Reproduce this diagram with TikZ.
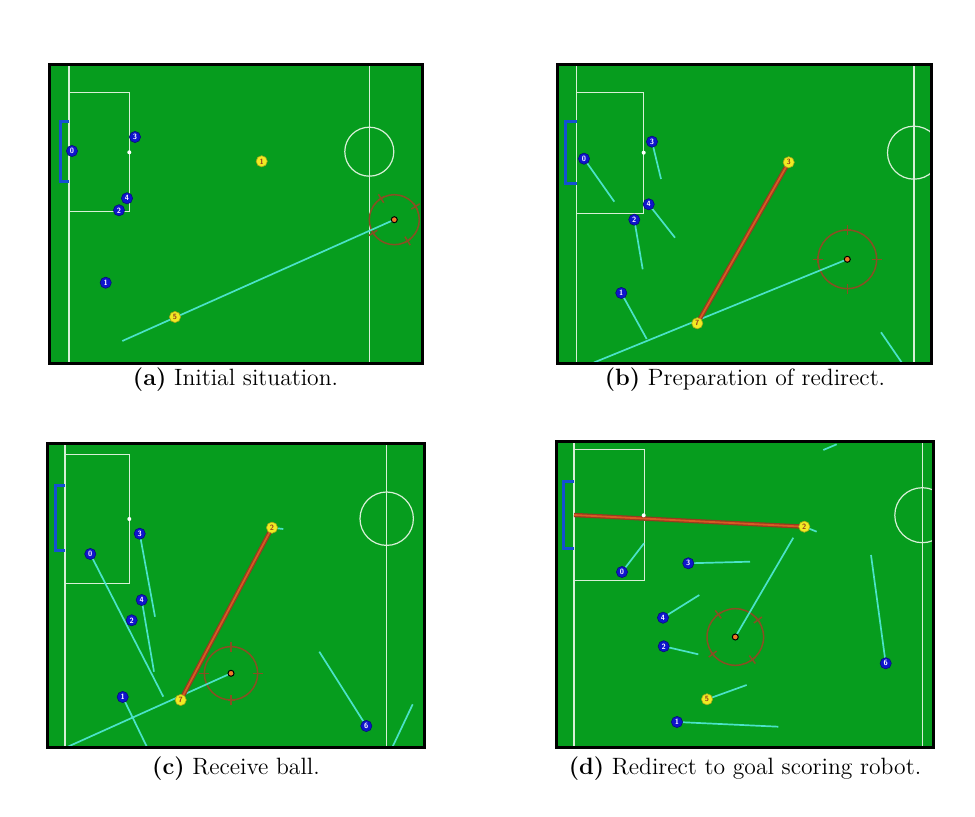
\documentclass[tikz,border=0pt]{standalone}
\definecolor{fieldgreen}{RGB}{6,157,30}
\definecolor{pathcyan}{RGB}{75,226,200}
\definecolor{botblue}{RGB}{15,20,205}
\definecolor{botyellow}{RGB}{240,235,35}
\definecolor{goalblue}{RGB}{20,80,210}
\definecolor{targetbrown}{RGB}{135,80,35}
\definecolor{passdark}{RGB}{150,60,30}
\definecolor{passlight}{RGB}{215,90,35}
\definecolor{balloran}{RGB}{240,120,40}
\definecolor{linewhite}{RGB}{215,240,215}
\pgfdeclarelayer{fieldlayer}
\pgfdeclarelayer{linelayer}
\pgfsetlayers{fieldlayer,linelayer,main}
\newcommand\targetmarks[3]{%
  \foreach \ang in {#3} {%
    \draw[target] (#1.center) ++(\ang:#2-5) -- ++(\ang:10);
    \draw[target] (#1.center) ++(\ang:#2) ++(\ang+90:3.5) -- ++(\ang-90:7);}}
\begin{document}
\begin{tikzpicture}[x=0.5pt,y=-0.5pt,
  border/.style={draw=black,line width=1.5pt},
  fline/.style={draw=linewhite,line width=0.6pt},
  goalbar/.style={draw=goalblue,line width=1.5pt},
  spot/.style={circle,fill=white,inner sep=0pt,minimum size=2pt},
  bbot/.style={circle,fill=botblue,draw=botblue!60!black,line width=0.3pt,inner sep=0pt,minimum size=5.6pt,text=white,font=\fontsize{3.8}{3.8}\selectfont\sffamily\bfseries},
  ybot/.style={bbot,fill=botyellow,draw=botyellow!70!black,text=passdark},
  ball/.style={circle,fill=balloran,draw=black,line width=0.5pt,inner sep=0pt,minimum size=3pt},
  target/.style={draw=targetbrown,line width=0.75pt},
  cyanpath/.style={draw=pathcyan,line width=0.85pt},
  passline/.style={draw=passdark,line width=2.2pt,postaction={draw=passlight,line width=0.9pt}},
  caption/.style={font=\fontsize{11.8}{14}\selectfont}]
\useasboundingbox (0,0) rectangle (975,817);

%================ panel (a) ================
\begin{pgfonlayer}{fieldlayer}
  \fill[fieldgreen] (49,65) rectangle (422,364);
  \draw[fline] (69,65) -- (69,364);
  \draw[fline] (69,92.3) -- (129.3,92.3) -- (129.3,211.7) -- (69,211.7);
  \draw[fline] (369.3,65) -- (369.3,364);
  \draw[fline] (369.3,151.7) circle[radius=24.5];
  \draw[goalbar] (69.3,121.7) -- (60,121.7) -- (60,181.7) -- (69.3,181.7);
\end{pgfonlayer}
\node[spot] (a-spot) at (129.3,152.3) {};
\node[ball] (a-ball) at (394.3,219.7) {};
\coordinate (a-end) at (122.3,341);
\node[bbot] (a-b3) at (135,137) {3};
\node[bbot] (a-b0) at (72,151) {0};
\node[bbot] (a-b4) at (127,198.3) {4};
\node[bbot] (a-b2) at (119,210.3) {2};
\node[bbot] (a-b1) at (105.7,282.7) {1};
\node[ybot] (a-y1) at (261.7,161.3) {1};
\node[ybot] (a-y5) at (175,317) {5};
\begin{pgfonlayer}{linelayer}
  \begin{scope}
    \clip (49,65) rectangle (422,364);
    \draw[target] (a-ball.center) circle[radius=25];
    \targetmarks{a-ball}{25}{-32,-122,-212,-302}
  \end{scope}
  \draw[cyanpath] (a-ball.center) -- (a-end);
\end{pgfonlayer}
\draw[border] (49,65) rectangle (422,364);
\node[caption] (cap-a) at (235.5,380) {\textbf{(a)} Initial situation.};

%================ panel (b) ================
\begin{pgfonlayer}{fieldlayer}
  \fill[fieldgreen] (557.7,64.3) rectangle (931.7,363.3);
  \draw[fline] (576.7,64.3) -- (576.7,363.3);
  \draw[fline] (576.7,92.3) -- (643.7,92.3) -- (643.7,213.3) -- (576.7,213.3);
  \draw[fline] (914,64.3) -- (914,363.3);
  \begin{scope}
    \clip (557.7,64.3) rectangle (931.7,363.3);
    \draw[fline] (914,152.7) circle[radius=26.5];
  \end{scope}
  \draw[goalbar] (576.7,121.7) -- (565.7,121.7) -- (565.7,183.3) -- (576.7,183.3);
\end{pgfonlayer}
\node[spot] (b-spot) at (643.7,152.7) {};
\node[ball] (b-ball) at (847.3,259.3) {};
\coordinate (b-end) at (594,362.5);
\coordinate (b-t3) at (661,179);
\coordinate (b-t0) at (614.3,201.7);
\coordinate (b-t4) at (675,237.7);
\coordinate (b-t2) at (642.7,269.3);
\coordinate (b-t1) at (646.7,339);
\coordinate (b-xs) at (881,332.3);
\coordinate (b-xe) at (901.7,362.5);
\node[bbot] (b-b3) at (652,141.7) {3};
\node[bbot] (b-b0) at (584,158.7) {0};
\node[bbot] (b-b4) at (648.7,204.3) {4};
\node[bbot] (b-b2) at (634.3,219.7) {2};
\node[bbot] (b-b1) at (621.3,293) {1};
\node[ybot] (b-y3) at (788.7,162.3) {3};
\node[ybot] (b-y7) at (697.3,323.3) {7};
\begin{pgfonlayer}{linelayer}
  \draw[target] (b-ball.center) circle[radius=29.3];
  \targetmarks{b-ball}{29.3}{0,90,180,270}
  \draw[cyanpath] (b-ball.center) -- (b-end);
  \draw[cyanpath] (b-b3.center) -- (b-t3);
  \draw[cyanpath] (b-b0.center) -- (b-t0);
  \draw[cyanpath] (b-b4.center) -- (b-t4);
  \draw[cyanpath] (b-b2.center) -- (b-t2);
  \draw[cyanpath] (b-b1.center) -- (b-t1);
  \draw[cyanpath] (b-xs) -- (b-xe);
  \draw[passline] (b-y3.center) -- (b-y7.center);
\end{pgfonlayer}
\draw[border] (557.7,64.3) rectangle (931.7,363.3);
\node[caption] (cap-b) at (745,380) {\textbf{(b)} Preparation of redirect.};

%================ panel (c) ================
\begin{pgfonlayer}{fieldlayer}
  \fill[fieldgreen] (47.3,443.3) rectangle (424,747.3);
  \draw[fline] (65,443.3) -- (65,747.3);
  \draw[fline] (65,454.3) -- (129.3,454.3) -- (129.3,583.3) -- (65,583.3);
  \draw[fline] (386.7,443.3) -- (386.7,747.3);
  \draw[fline] (386.7,518.7) circle[radius=26.7];
  \draw[goalbar] (65,485.7) -- (55,485.7) -- (55,551) -- (65,551);
\end{pgfonlayer}
\node[spot] (c-spot) at (129.3,519) {};
\node[ball] (c-ball) at (231,673.3) {};
\coordinate (c-end) at (68.3,746.5);
\coordinate (c-t3) at (155,616.7);
\coordinate (c-t0) at (163.3,696.7);
\coordinate (c-t4) at (154,671.7);
\coordinate (c-t1) at (146.7,746.5);
\coordinate (c-t6) at (319.3,651.7);
\coordinate (c-ty2) at (283.3,529);
\coordinate (c-xs) at (412.7,704.3);
\coordinate (c-xe) at (392.7,746.5);
\node[bbot] (c-b3) at (139.7,533.7) {3};
\node[bbot] (c-b0) at (90.3,554) {0};
\node[bbot] (c-b4) at (141.7,600) {4};
\node[bbot] (c-b2) at (131.7,620.3) {2};
\node[bbot] (c-b1) at (122.7,697) {1};
\node[bbot] (c-b6) at (366.3,726) {6};
\node[ybot] (c-y2) at (272,527.7) {2};
\node[ybot] (c-y7) at (180.7,700) {7};
\begin{pgfonlayer}{linelayer}
  \draw[target] (c-ball.center) circle[radius=26.7];
  \targetmarks{c-ball}{26.7}{0,90,180,270}
  \draw[cyanpath] (c-ball.center) -- (c-end);
  \draw[cyanpath] (c-b3.center) -- (c-t3);
  \draw[cyanpath] (c-b0.center) -- (c-t0);
  \draw[cyanpath] (c-b4.center) -- (c-t4);
  \draw[cyanpath] (c-b1.center) -- (c-t1);
  \draw[cyanpath] (c-b6.center) -- (c-t6);
  \draw[cyanpath] (c-y2.center) -- (c-ty2);
  \draw[cyanpath] (c-xs) -- (c-xe);
  \draw[passline] (c-y2.center) -- (c-y7.center);
\end{pgfonlayer}
\draw[border] (47.3,443.3) rectangle (424,747.3);
\node[caption] (cap-c) at (236,769) {\textbf{(c)} Receive ball.};

%================ panel (d) ================
\begin{pgfonlayer}{fieldlayer}
  \fill[fieldgreen] (556.7,441.7) rectangle (933.3,747.3);
  \draw[fline] (574,441.7) -- (574,747.3);
  \draw[fline] (574,449.3) -- (644.3,449.3) -- (644.3,580.7) -- (574,580.7);
  \draw[fline] (922.3,441.7) -- (922.3,747.3);
  \begin{scope}
    \clip (556.7,441.7) rectangle (933.3,747.3);
    \draw[fline] (922.3,515.2) circle[radius=27.5];
  \end{scope}
  \draw[goalbar] (574,481.7) -- (563.3,481.7) -- (563.3,548.3) -- (574,548.3);
\end{pgfonlayer}
\node[spot] (d-spot) at (643.7,515.3) {};
\coordinate (d-goal) at (574,515);
\node[ball] (d-ball) at (735.3,637) {};
\coordinate (d-end) at (793.3,537.7);
\coordinate (d-t0) at (644,543.3);
\coordinate (d-t3) at (750,561.7);
\coordinate (d-t4) at (699.3,595);
\coordinate (d-t2) at (698.3,654.3);
\coordinate (d-t1) at (778.3,726.7);
\coordinate (d-t6) at (871,555);
\coordinate (d-ty2) at (816.7,531.7);
\coordinate (d-ty5) at (746.7,685);
\coordinate (d-xs) at (823.3,450);
\coordinate (d-xe) at (836.7,444.3);
\node[bbot] (d-b0) at (622,572) {0};
\node[bbot] (d-b3) at (688.3,563.3) {3};
\node[bbot] (d-b4) at (663,617.7) {4};
\node[bbot] (d-b2) at (663.7,646.3) {2};
\node[bbot] (d-b1) at (677,722) {1};
\node[bbot] (d-b6) at (885.7,663.3) {6};
\node[ybot] (d-y2) at (804.3,526.7) {2};
\node[ybot] (d-y5) at (707,699.3) {5};
\begin{pgfonlayer}{linelayer}
  \draw[target] (d-ball.center) circle[radius=28.3];
  \targetmarks{d-ball}{28.3}{-37,-127,-217,-307}
  \draw[cyanpath] (d-ball.center) -- (d-end);
  \draw[cyanpath] (d-b0.center) -- (d-t0);
  \draw[cyanpath] (d-b3.center) -- (d-t3);
  \draw[cyanpath] (d-b4.center) -- (d-t4);
  \draw[cyanpath] (d-b2.center) -- (d-t2);
  \draw[cyanpath] (d-b1.center) -- (d-t1);
  \draw[cyanpath] (d-b6.center) -- (d-t6);
  \draw[cyanpath] (d-y2.center) -- (d-ty2);
  \draw[cyanpath] (d-y5.center) -- (d-ty5);
  \draw[cyanpath] (d-xs) -- (d-xe);
  \draw[passline] (d-goal) -- (d-y2.center);
\end{pgfonlayer}
\draw[border] (556.7,441.7) rectangle (933.3,747.3);
\node[caption] (cap-d) at (745,769) {\textbf{(d)} Redirect to goal scoring robot.};
\end{tikzpicture}
\end{document}
